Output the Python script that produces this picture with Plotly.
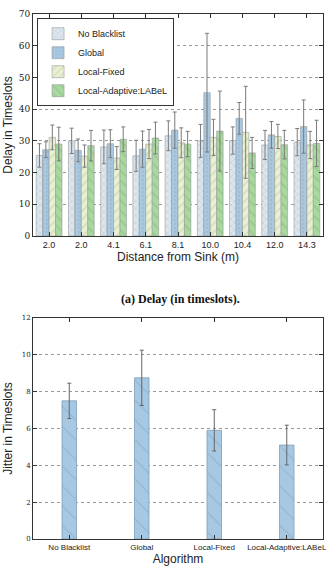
import plotly.graph_objects as go
from plotly.subplots import make_subplots

# ---- data: delay (top) ----
distances = ["2.0", "2.0", "4.1", "6.1", "8.1", "10.0", "10.4", "12.0", "14.3"]
series_names = ["No Blacklist", "Global", "Local-Fixed", "Local-Adaptive:LABeL"]
nobl = [25.4, 30.0, 28.1, 25.3, 31.6, 30.0, 30.1, 28.7, 29.6]
nobl_err = [3.7, 4.0, 5.3, 4.9, 4.7, 5.2, 4.3, 4.6, 4.3]
glob = [27.2, 27.0, 29.1, 27.4, 33.4, 45.2, 37.1, 31.9, 34.5]
glob_err = [2.5, 3.6, 4.4, 5.7, 5.7, 18.7, 5.0, 4.2, 8.4]
lfix = [31.1, 25.2, 24.6, 29.0, 29.4, 31.1, 32.7, 31.4, 28.7]
lfix_err = [3.9, 3.5, 3.6, 4.6, 4.7, 5.7, 14.5, 3.8, 4.3]
ladp = [29.0, 28.5, 30.5, 30.9, 29.0, 33.1, 26.2, 28.8, 29.2]
ladp_err = [5.3, 4.8, 3.9, 5.0, 4.0, 12.6, 4.9, 4.5, 7.3]
delay_ticks = [0, 10, 20, 30, 40, 50, 60, 70]

# ---- data: jitter (bottom) ----
algorithms = ["No Blacklist", "Global", "Local-Fixed", "Local-Adaptive:LABeL"]
jitter = [7.5, 8.75, 5.9, 5.1]
jitter_err = [0.96, 1.5, 1.12, 1.08]
jitter_ticks = [0, 2, 4, 6, 8, 10, 12]

fig = make_subplots(rows=2, cols=1)

styles = [
    dict(color="#dce6ee", fg="#a9bccb", shape="x", size=5),
    dict(color="#a8c8e1", fg="#8fb0cb", shape=".", size=4),
    dict(color="#e8f1d4", fg="#b9c99e", shape="/", size=6),
    dict(color="#a9d8a0", fg="#86b97d", shape="\\", size=7),
]
vals = [nobl, glob, lfix, ladp]
errs = [nobl_err, glob_err, lfix_err, ladp_err]
xpos = list(range(len(distances)))

for name, v, e, st in zip(series_names, vals, errs, styles):
    fig.add_trace(go.Bar(
        x=xpos, y=v, name=name,
        marker=dict(color=st["color"], line=dict(color="#9a9a9a", width=0.6),
                    pattern=dict(shape=st["shape"], fgcolor=st["fg"], size=st["size"], solidity=0.25)),
        error_y=dict(type="data", array=e, visible=True, color="#7a7a7a", thickness=1, width=2),
    ), row=1, col=1)

fig.add_trace(go.Bar(
    x=list(range(len(algorithms))), y=jitter, name="Jitter", showlegend=False, width=0.2,
    marker=dict(color="#a7c8e2", line=dict(color="#7f9fb8", width=0.8),
                pattern=dict(shape="\\", fgcolor="#7d9fbc", size=14, solidity=0.08)),
    error_y=dict(type="data", array=jitter_err, visible=True, color="#666666", thickness=1, width=2),
), row=2, col=1)

axis_common = dict(showline=True, linecolor="#333333", linewidth=1, mirror="allticks",
                   ticks="inside", ticklen=4, tickcolor="#333333", zeroline=False)

fig.update_layout(
    width=333, height=573,
    margin=dict(l=29, r=7, t=14, b=34),
    paper_bgcolor="white", plot_bgcolor="white",
    barmode="group", bargap=0.2, bargroupgap=0,
    font=dict(family="Liberation Sans, Arial, sans-serif", color="#222222"),
    legend=dict(x=0.014, y=0.992, xanchor="left", yanchor="top",
                bgcolor="white", bordercolor="#333333", borderwidth=1,
                font=dict(size=9, family="Liberation Sans, Arial, sans-serif"),
                tracegroupgap=0, itemwidth=30),
    xaxis=dict(domain=[0, 1], range=[-0.5, len(distances) - 0.5],
               tickvals=xpos, ticktext=distances, showgrid=False,
               tickfont=dict(size=9),
               title=dict(text="Distance from Sink (m)", font=dict(size=12), standoff=2),
               **axis_common),
    yaxis=dict(domain=[0.5771, 1], range=[0, 70], tickvals=delay_ticks,
               showgrid=True, gridcolor="#999999", griddash="dot", gridwidth=1,
               tickfont=dict(size=9, family="DejaVu Serif, Liberation Serif, serif"),
               title=dict(text="Delay in Timeslots", font=dict(size=12), standoff=3),
               **axis_common),
    xaxis2=dict(domain=[0, 1], range=[-0.5, len(algorithms) - 0.5],
                tickvals=list(range(len(algorithms))), ticktext=algorithms, showgrid=False,
                tickfont=dict(size=8),
                title=dict(text="Algorithm", font=dict(size=12), standoff=0),
                **axis_common),
    yaxis2=dict(domain=[0, 0.421], range=[0, 12], tickvals=jitter_ticks,
                showgrid=True, gridcolor="#999999", griddash="dot", gridwidth=1,
                tickfont=dict(size=7, family="DejaVu Serif, Liberation Serif, serif"),
                title=dict(text="Jitter in Timeslots", font=dict(size=12), standoff=6),
                **axis_common),
    annotations=[dict(text="<b>(a) Delay (in timeslots).</b>", xref="paper", yref="paper",
                      x=0.51, y=0.457, xanchor="center", yanchor="middle", showarrow=False,
                      font=dict(size=12, family="Liberation Serif, serif", color="#111111"))],
)

fig.write_html("out.html")
